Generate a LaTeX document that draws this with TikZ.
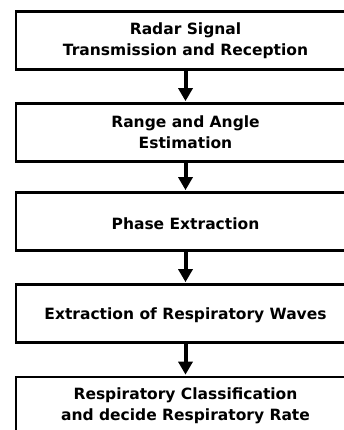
\documentclass[tikz,border=0pt]{standalone}
\usepackage{fontspec}
\setmainfont{DejaVu Sans}
\usetikzlibrary{arrows.meta}

\tikzset{
  stagebox/.style={draw, line width=2.7pt, minimum width=339pt, minimum height=58pt,
    align=center, inner sep=0pt, font=\bfseries\fontsize{15.5}{20.6}\selectfont,
    execute at begin node={\rule{0pt}{16pt}}},
  flowarrow/.style={line width=4pt, -{Triangle[width=14pt, length=13pt]}, shorten >=1pt}
}

\begin{document}
\begin{tikzpicture}[x=1pt, y=1pt]
          \useasboundingbox (0, 0) rectangle (344, -430);

          \node [stagebox] (radar) at (185.5, -40.5) {Radar Signal\\Transmission and Reception};
          \node [stagebox] (range) at (185.5, -132.5) {Range and Angle\\Estimation};
          \node [stagebox] (phase) at (185.5, -221.5) {Phase Extraction};
          \node [stagebox] (waves) at (185.5, -313.5) {Extraction of Respiratory Waves};
          \node [stagebox] (rate) at (185.5, -406) {Respiratory Classification\\and decide Respiratory Rate};

          \draw [flowarrow] (radar) -- (range);
          \draw [flowarrow] (range) -- (phase);
          \draw [flowarrow] (phase) -- (waves);
          \draw [flowarrow] (waves) -- (rate);
        \end{tikzpicture}
\end{document}
